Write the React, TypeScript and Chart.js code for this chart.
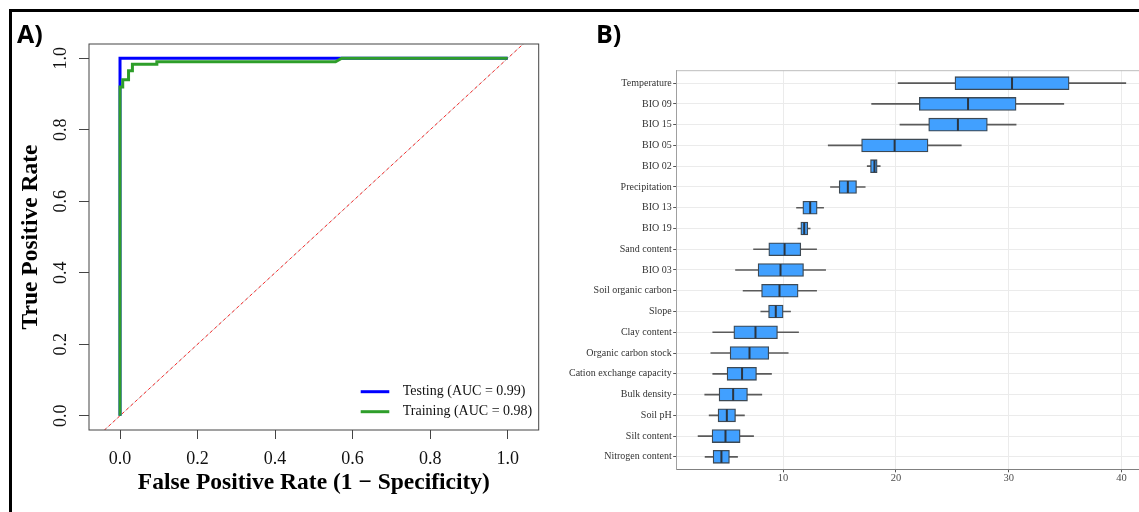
import React, { useEffect, useRef } from "react";
import { Chart, registerables } from "chart.js";

Chart.register(...registerables);

// ---------- Panel A: ROC curves ----------
const rocTicks = [0, 0.2, 0.4, 0.6, 0.8, 1.0];
const testingFpr = [0, 0, 1];
const testingTpr = [0, 1, 1];
const trainingFpr = [0, 0, 0.007, 0.007, 0.022, 0.022, 0.032, 0.032, 0.095, 0.095, 0.556, 0.572, 1];
const trainingTpr = [0, 0.92, 0.92, 0.94, 0.94, 0.965, 0.965, 0.983, 0.983, 0.99, 0.99, 1, 1];
const chanceLine = [-0.2, 1.2];
const testingLabel = "Testing (AUC = 0.99)";
const trainingLabel = "Training (AUC = 0.98)";
const legendOrder = [testingLabel, trainingLabel];

// ---------- Panel B: variable importance boxplots ----------
const variables = [
  "Temperature",
  "BIO 09",
  "BIO 15",
  "BIO 05",
  "BIO 02",
  "Precipitation",
  "BIO 13",
  "BIO 19",
  "Sand content",
  "BIO 03",
  "Soil organic carbon",
  "Slope",
  "Clay content",
  "Organic carbon stock",
  "Cation exchange capacity",
  "Bulk density",
  "Soil pH",
  "Silt content",
  "Nitrogen content",
];
const whiskerLow = [20.2, 17.85, 20.36, 14.0, 17.46, 14.2, 11.19, 11.31, 7.38, 5.78, 6.45, 8.02, 3.76, 3.59, 3.76, 3.05, 3.44, 2.46, 3.08];
const q1 = [25.24, 22.08, 22.91, 16.96, 17.75, 14.97, 11.75, 11.57, 8.73, 7.78, 8.09, 8.71, 5.63, 5.3, 5.03, 4.32, 4.23, 3.7, 3.79];
const median = [30.3, 26.4, 25.5, 19.89, 18.1, 15.74, 12.4, 11.87, 10.13, 9.77, 9.68, 9.35, 7.55, 7.02, 6.36, 5.57, 5.01, 4.89, 4.53];
const q3 = [35.36, 30.66, 28.11, 22.85, 18.34, 16.51, 13.02, 12.19, 11.57, 11.81, 11.33, 10.0, 9.5, 8.73, 7.64, 6.84, 5.78, 6.19, 5.24];
const whiskerHigh = [40.39, 34.89, 30.66, 25.8, 18.61, 17.28, 13.59, 12.4, 12.97, 13.77, 12.97, 10.66, 11.37, 10.45, 8.97, 8.11, 6.57, 7.38, 5.96];
const importanceTicks = [10, 20, 30, 40];

const SERIF = "'Liberation Serif', 'Times New Roman', serif";
const BLUE = "#0000ff";
const GREEN = "#2e9e2a";

const frameA = {
  id: "frameA",
  afterDraw(chart: any) {
    const { ctx, chartArea: a } = chart;
    ctx.save();
    ctx.strokeStyle = "#444";
    ctx.lineWidth = 1;
    ctx.strokeRect(a.left, a.top, a.right - a.left, a.bottom - a.top);
    ctx.restore();
  },
};

const legendA = {
  id: "legendA",
  afterDraw(chart: any) {
    const { ctx, chartArea: a } = chart;
    ctx.save();
    ctx.font = `14px ${SERIF}`;
    ctx.textBaseline = "middle";
    ctx.textAlign = "left";
    legendOrder.forEach((lab, i) => {
      const ds = chart.data.datasets.find((d: any) => d.label === lab);
      if (!ds) return;
      const y = a.bottom - 38.3 + i * 20;
      ctx.strokeStyle = ds.borderColor;
      ctx.lineWidth = 3;
      ctx.beginPath();
      ctx.moveTo(a.right - 178, y);
      ctx.lineTo(a.right - 149.4, y);
      ctx.stroke();
      ctx.fillStyle = "#111";
      ctx.fillText(lab, a.right - 136, y);
    });
    ctx.restore();
  },
};

const frameB = {
  id: "frameB",
  beforeDatasetsDraw(chart: any) {
    const { ctx, chartArea: a } = chart;
    ctx.save();
    ctx.strokeStyle = "#bdbdbd";
    ctx.lineWidth = 1;
    ctx.beginPath();
    ctx.moveTo(a.left, a.top);
    ctx.lineTo(a.right, a.top);
    ctx.lineTo(a.right, a.bottom);
    ctx.stroke();
    ctx.restore();
  },
};

function RocChart() {
  const ref = useRef<HTMLCanvasElement>(null);
  useEffect(() => {
    const chart = new Chart(ref.current!, {
      type: "scatter",
      data: {
        datasets: [
          {
            label: trainingLabel,
            data: trainingFpr.map((x, i) => ({ x, y: trainingTpr[i] })),
            showLine: true,
            borderColor: GREEN,
            backgroundColor: GREEN,
            borderWidth: 3,
            pointRadius: 0,
            borderJoinStyle: "miter",
            order: 1,
          },
          {
            label: testingLabel,
            data: testingFpr.map((x, i) => ({ x, y: testingTpr[i] })),
            showLine: true,
            borderColor: BLUE,
            backgroundColor: BLUE,
            borderWidth: 3,
            pointRadius: 0,
            borderJoinStyle: "miter",
            order: 2,
          },
          {
            label: "chance",
            data: chanceLine.map((v) => ({ x: v, y: v })),
            showLine: true,
            borderColor: "#ff2a2a",
            borderWidth: 1,
            borderDash: [3, 3],
            pointRadius: 0,
            order: 3,
          },
          {
            label: "chance-under",
            data: chanceLine.map((v) => ({ x: v, y: v })),
            showLine: true,
            borderColor: "#d2d2d2",
            borderWidth: 1,
            pointRadius: 0,
            order: 4,
          },
        ],
      },
      options: {
        responsive: false,
        animation: false,
        events: [],
        layout: { padding: { left: 0, top: 32, right: 21.3, bottom: 0 } },
        plugins: { legend: { display: false }, tooltip: { enabled: false } },
        scales: {
          x: {
            type: "linear",
            min: -0.08,
            max: 1.08,
            afterBuildTicks: (s: any) => {
              s.ticks = rocTicks.map((v) => ({ value: v }));
            },
            afterFit: (s: any) => {
              s.height = 82;
            },
            grid: { drawOnChartArea: false, drawTicks: true, tickLength: 9, color: "#444", tickColor: "#444" },
            border: { display: false },
            ticks: {
              padding: 9,
              color: "#111",
              font: { family: SERIF, size: 18 },
              maxRotation: 0,
              autoSkip: false,
              callback: (v: any) => Number(v).toFixed(1),
            },
            title: {
              display: true,
              text: "False Positive Rate (1 − Specificity)",
              color: "#000",
              font: { family: SERIF, size: 23.5, weight: "bold" },
              padding: { top: 0, bottom: 15 },
            },
          },
          y: {
            type: "linear",
            min: -0.04,
            max: 1.04,
            afterBuildTicks: (s: any) => {
              s.ticks = rocTicks.map((v) => ({ value: v }));
            },
            afterFit: (s: any) => {
              s.width = 77;
            },
            grid: { drawOnChartArea: false, drawTicks: true, tickLength: 10, color: "#444", tickColor: "#444" },
            border: { display: false },
            ticks: {
              padding: 6,
              color: "#111",
              font: { family: SERIF, size: 18 },
              minRotation: 90,
              maxRotation: 90,
              crossAlign: "center",
              autoSkip: false,
              callback: (v: any) => Number(v).toFixed(1),
            },
            title: {
              display: true,
              text: "True Positive Rate",
              color: "#000",
              font: { family: SERIF, size: 23.5, weight: "bold" },
              padding: { top: 5, bottom: 0 },
            },
          },
        },
      } as any,
      plugins: [frameA, legendA],
    });
    return () => chart.destroy();
  }, []);
  return (
    <canvas
      ref={ref}
      width={548}
      height={500}
      style={{ position: "absolute", left: 12, top: 12, width: 548, height: 500 }}
    />
  );
}

function ImportanceChart() {
  const ref = useRef<HTMLCanvasElement>(null);
  useEffect(() => {
    const lo = Math.min(...whiskerLow);
    const hi = Math.max(...whiskerHigh);
    const pad = (hi - lo) * 0.05;
    const chart = new Chart(ref.current!, {
      type: "bar",
      data: {
        datasets: [
          {
            type: "scatter",
            label: "median",
            data: median.map((m, i) => ({ x: m, y: i })),
            pointStyle: "line",
            pointRotation: 90,
            pointRadius: 6,
            pointBorderWidth: 2,
            pointBorderColor: "#2b3540",
            pointBackgroundColor: "#2b3540",
            order: 0,
          },
          {
            type: "bar",
            label: "IQR",
            data: variables.map((_, i) => ({ y: i, x: [q1[i], q3[i]] })),
            backgroundColor: "#41a0ff",
            borderColor: "#3d4954",
            borderWidth: 1.3,
            borderSkipped: false,
            barThickness: 13,
            grouped: false,
            order: 1,
          },
          {
            type: "bar",
            label: "whiskers",
            data: variables.map((_, i) => ({ y: i, x: [whiskerLow[i], whiskerHigh[i]] })),
            backgroundColor: "#5a5a5a",
            borderWidth: 0,
            barThickness: 1,
            grouped: false,
            order: 2,
          },
        ],
      } as any,
      options: {
        indexAxis: "y",
        responsive: false,
        animation: false,
        events: [],
        layout: { padding: { left: 0, top: 58.7, right: 12.8, bottom: 0 } },
        plugins: { legend: { display: false }, tooltip: { enabled: false } },
        scales: {
          x: {
            type: "linear",
            min: lo - pad,
            max: hi + pad,
            afterBuildTicks: (s: any) => {
              s.ticks = importanceTicks.map((v) => ({ value: v }));
            },
            afterFit: (s: any) => {
              s.height = 42.7;
            },
            grid: { color: "#ebebeb", tickColor: "#555", tickLength: 3, lineWidth: 1 },
            border: { display: true, color: "#808080", width: 1 },
            ticks: {
              padding: 0,
              color: "#4d4d4d",
              font: { family: SERIF, size: 10.5 },
              maxRotation: 0,
              autoSkip: false,
              callback: (v: any) => String(v),
            },
          },
          y: {
            type: "linear",
            reverse: true,
            min: -0.6,
            max: 18.6,
            offset: false,
            afterBuildTicks: (s: any) => {
              s.ticks = variables.map((_, i) => ({ value: i }));
            },
            afterFit: (s: any) => {
              s.width = 116.7;
            },
            grid: { color: "#ebebeb", tickColor: "#555", tickLength: 3.5, offset: false, lineWidth: 1 },
            border: { display: true, color: "#a0a0a0", width: 1 },
            ticks: {
              padding: 1.5,
              color: "#333",
              font: { family: SERIF, size: 10 },
              autoSkip: false,
              callback: (v: any) => variables[v] ?? "",
            },
          },
        },
      } as any,
      plugins: [frameB],
    });
    return () => chart.destroy();
  }, []);
  return (
    <canvas
      ref={ref}
      width={600}
      height={500}
      style={{ position: "absolute", left: 560, top: 12, width: 600, height: 500 }}
    />
  );
}

const panelLetter: React.CSSProperties = {
  position: "absolute",
  top: 21,
  fontFamily: "'Open Sans', 'DejaVu Sans', sans-serif",
  fontWeight: 700,
  fontSize: 25,
  lineHeight: "24px",
  color: "#000",
  margin: 0,
};

export default function App() {
  return (
    <div
      style={{
        position: "fixed",
        left: 0,
        top: 0,
        width: 1139,
        height: 512,
        overflow: "hidden",
        background: "#fff",
      }}
    >
      <RocChart />
      <ImportanceChart />
      <div
        style={{
          position: "absolute",
          left: 9,
          top: 9,
          width: 1200,
          height: 600,
          borderTop: "3px solid #000",
          borderLeft: "3px solid #000",
          pointerEvents: "none",
        }}
      />
      <div style={{ ...panelLetter, left: 17 }}>A)</div>
      <div style={{ ...panelLetter, left: 596 }}>B)</div>
    </div>
  );
}
